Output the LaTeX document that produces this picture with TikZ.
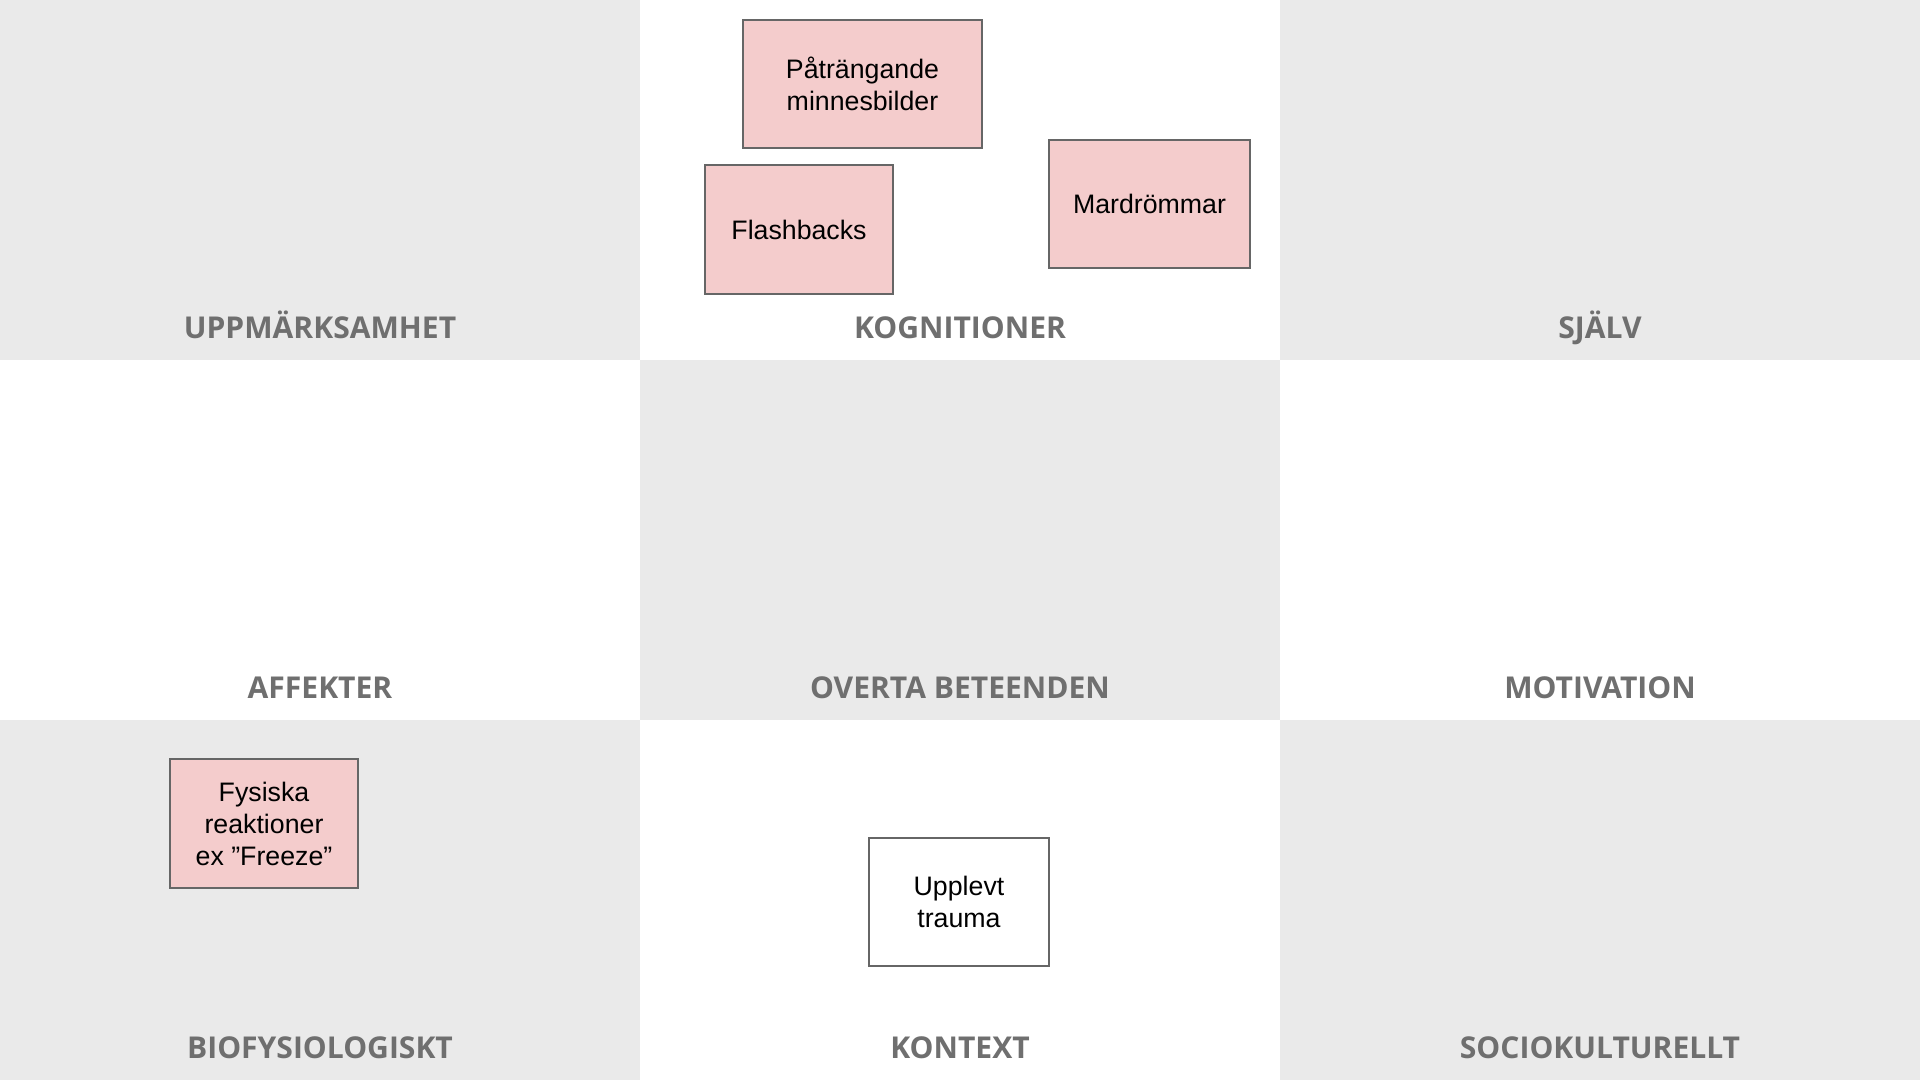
\documentclass[tikz,border=0pt]{standalone}
\usepackage{fontspec}
\setmainfont{Liberation Sans}
\newfontfamily\headfont{Open Sans}
\usetikzlibrary{positioning}
\definecolor{cellgray}{HTML}{EAEAEA}
\definecolor{notepink}{HTML}{F4CCCC}
\definecolor{edgegray}{HTML}{666666}
\definecolor{headgray}{HTML}{6F6F6F}

\begin{document}
\begin{tikzpicture}
[x=0.01cm, y=-0.01cm,
 note/.style={rectangle, draw=edgegray, line width=0.55pt, fill=notepink, align=center, inner sep=0pt, font=\fontsize{7.6pt}{9.1pt}\selectfont},
 plain note/.style={note, fill=white},
 head/.style={anchor=base, text=headgray, font=\headfont\bfseries\fontsize{8.55pt}{9pt}\selectfont}]
\useasboundingbox (0,0) rectangle (1920,1080);
% checkerboard of cells
\fill[white] (0,0) rectangle (1920,1080);
\foreach \cx/\cy in {0/0, 2/0, 1/1, 0/2, 2/2}
    \fill[cellgray] (640*\cx,360*\cy) rectangle (640*\cx+640,360*\cy+360);
% cell headings
\node[head] (uppm) at (320,339) {UPPMÄRKSAMHET};
\node[head] (kogn) at (960,339) {KOGNITIONER};
\node[head] (sjalv) at (1600,339) {SJÄLV};
\node[head] (affekt) at (320,699) {AFFEKTER};
\node[head] (overta) at (960,699) {OVERTA BETEENDEN};
\node[head] (motiv) at (1600,699) {MOTIVATION};
\node[head] (biofys) at (320,1059) {BIOFYSIOLOGISKT};
\node[head] (kontext) at (960,1059) {KONTEXT};
\node[head] (sociok) at (1600,1059) {SOCIOKULTURELLT};
% notes
\node[note, minimum width=2.39cm, minimum height=1.28cm] (minnen) at (862.5,84) {Påträngande\\minnesbilder};
\node[note, minimum width=1.88cm, minimum height=1.29cm] (flash) at (799,229.5) {Flashbacks};
\node[note, minimum width=2.01cm, minimum height=1.28cm] (mard) at (1149.5,204) {Mardrömmar};
\node[note, minimum width=1.88cm, minimum height=1.29cm] (fysiska) at (264,823.5) {Fysiska\\reaktioner\\ex ”Freeze”};
\node[plain note, minimum width=1.80cm, minimum height=1.28cm] (trauma) at (959,902) {Upplevt\\trauma};
\end{tikzpicture}
\end{document}
